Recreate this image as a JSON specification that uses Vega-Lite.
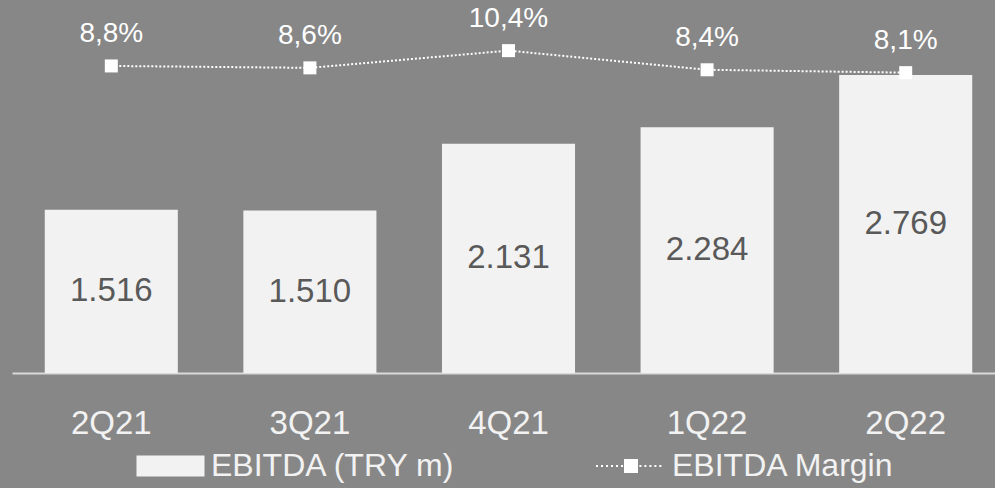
{
  "$schema": "https://vega.github.io/schema/vega-lite/v6.json",
  "width": 993,
  "height": 373,
  "autosize": {"type": "none"},
  "padding": {"left": 12, "top": 0, "right": 0, "bottom": 115},
  "background": "#878787",
  "config": {
    "view": {"stroke": null},
    "font": "Liberation Sans",
    "locale": {"number": {"decimal": ",", "thousands": ".", "grouping": [3], "currency": ["", ""]}},
    "legend": {"orient": "none", "labelFont": "Liberation Sans", "labelFontSize": 32, "labelColor": "#f2f2f2", "labelLimit": 500, "padding": 0, "title": null}
  },
  "data": {"values": [
    {"q": "2Q21", "ebitda": 1516, "margin": 0.088},
    {"q": "3Q21", "ebitda": 1510, "margin": 0.086},
    {"q": "4Q21", "ebitda": 2131, "margin": 0.104},
    {"q": "1Q22", "ebitda": 2284, "margin": 0.084},
    {"q": "2Q22", "ebitda": 2769, "margin": 0.081}
  ]},
  "encoding": {
    "x": {"field": "q", "type": "nominal", "sort": null, "title": null,
      "scale": {"paddingInner": 0.33, "paddingOuter": 0.165},
      "axis": {"labelAngle": 0, "labelFontSize": 33, "labelColor": "#f2f2f2", "labelFont": "Liberation Sans", "labelBaseline": "alphabetic", "labelPadding": 60, "ticks": false, "domainColor": "#d9d9d9", "domainWidth": 2, "grid": false}}
  },
  "layer": [
    {
      "layer": [
        {
          "mark": {"type": "bar"},
          "encoding": {
            "y": {"field": "ebitda", "type": "quantitative", "scale": {"domain": [0, 3466], "nice": false}, "axis": null},
            "color": {"datum": "EBITDA (TRY m)", "scale": {"range": ["#f2f2f2"]},
              "legend": {"legendX": 142.5, "legendY": 450, "symbolType": "M-3.24,-1H3.24V1H-3.24Z", "symbolSize": 441, "symbolOpacity": 1, "symbolStrokeWidth": 0, "labelOffset": 24.5}}
          }
        },
        {
          "transform": [{"calculate": "datum.ebitda / 2", "as": "mid"}],
          "mark": {"type": "text", "fontSize": 33, "color": "#595959", "baseline": "middle", "font": "Liberation Sans"},
          "encoding": {
            "y": {"field": "mid", "type": "quantitative", "axis": null},
            "text": {"field": "ebitda", "type": "quantitative", "format": ",d"}
          }
        }
      ]
    },
    {
      "layer": [
        {
          "mark": {"type": "line", "color": "#ffffff", "strokeWidth": 2, "strokeDash": [2, 2]},
          "encoding": {
            "y": {"field": "margin", "type": "quantitative", "scale": {"domain": [-0.2328, 0.1569], "nice": false, "zero": false}, "axis": null}
          }
        },
        {
          "mark": {"type": "point", "shape": "square", "filled": true, "size": 169, "opacity": 1},
          "encoding": {
            "y": {"field": "margin", "type": "quantitative", "axis": null},
            "color": {"datum": "EBITDA Margin", "scale": {"range": ["#ffffff"]},
              "legend": {"legendX": 603, "legendY": 450, "symbolType": "M-1,-1H1V1H-1Z M-5,-0.14h0.29v0.28h-0.29Z M-4.29,-0.14h0.29v0.28h-0.29Z M-3.57,-0.14h0.29v0.28h-0.29Z M-2.86,-0.14h0.29v0.28h-0.29Z M-2.14,-0.14h0.29v0.28h-0.29Z M-1.43,-0.14h0.29v0.28h-0.29Z M1.2,-0.14h0.29v0.28h-0.29Z M1.91,-0.14h0.29v0.28h-0.29Z M2.63,-0.14h0.29v0.28h-0.29Z M3.34,-0.14h0.29v0.28h-0.29Z M4.05,-0.14h0.29v0.28h-0.29Z", "symbolSize": 196, "symbolOpacity": 1, "symbolStrokeWidth": 0, "labelOffset": 25}}
          }
        },
        {
          "mark": {"type": "text", "fontSize": 28, "color": "#ffffff", "baseline": "middle", "dy": -32, "font": "Liberation Sans"},
          "encoding": {
            "y": {"field": "margin", "type": "quantitative", "axis": null},
            "text": {"field": "margin", "type": "quantitative", "format": ".1%"}
          }
        }
      ]
    }
  ],
  "resolve": {"scale": {"y": "independent", "color": "independent"}}
}
